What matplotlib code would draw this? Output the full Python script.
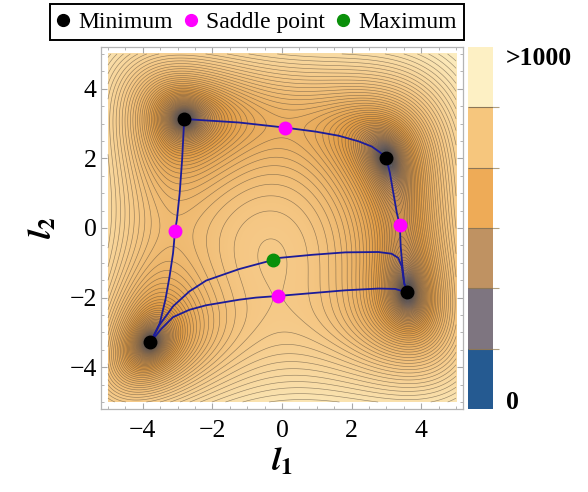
import numpy as np
import matplotlib
matplotlib.use('Agg')
import matplotlib.pyplot as plt
from matplotlib.colors import LinearSegmentedColormap, ListedColormap, BoundaryNorm
from matplotlib.cm import ScalarMappable
from matplotlib.lines import Line2D
from matplotlib.ticker import MultipleLocator, FixedLocator

plt.rcParams['font.family'] = ['Liberation Serif', 'DejaVu Serif']
plt.rcParams['mathtext.fontset'] = 'stix'

# stationary points of the surface
min_x = [-2.805, 3.0, -3.779, 3.584]
min_y = [3.131, 2.0, -3.283, -1.848]
saddle_x = [0.087, 3.385, -3.073, -0.128]
saddle_y = [2.884, 0.074, -0.081, -1.954]
max_x = [-0.271]
max_y = [-0.923]

# blue paths
top_x = [-2.805, -2.18, -1.23, 0.087, 0.96, 1.63, 2.2, 2.58, 2.82, 3.0]
top_y = [3.131, 3.09, 3.03, 2.884, 2.77, 2.65, 2.49, 2.34, 2.17, 2.0]
right_x = [3.0, 3.10, 3.2, 3.30, 3.385, 3.41, 3.46, 3.51, 3.584]
right_y = [2.0, 1.58, 1.0, 0.43, 0.074, -0.53, -1.10, -1.58, -1.848]
left_x = [-2.805, -2.82, -2.87, -2.94, -3.02, -3.073, -3.13, -3.23, -3.35, -3.51, -3.779]
left_y = [3.131, 2.92, 1.96, 1.0, 0.24, -0.081, -0.72, -1.39, -2.06, -2.73, -3.283]
bottom_x = [-3.779, -3.47, -3.13, -2.66, -2.18, -1.23, -0.75, -0.128, 0.87, 1.82, 2.77, 3.25, 3.584]
bottom_y = [-3.283, -2.90, -2.56, -2.35, -2.22, -2.06, -2.0, -1.954, -1.87, -1.79, -1.74, -1.75, -1.848]
maxpath_x = [-3.779, -3.53, -3.13, -2.66, -2.18, -1.23, -0.75, -0.271, -0.086, 0.87, 1.82, 2.77, 3.15, 3.34, 3.44, 3.51, 3.584]
maxpath_y = [-3.283, -2.80, -2.25, -1.82, -1.51, -1.18, -1.05, -0.923, -0.86, -0.77, -0.70, -0.69, -0.74, -0.86, -1.10, -1.58, -1.848]

# colour bar
cbar_colors = ['#255a91', '#7e7580', '#bf9262', '#eeab57', '#f6c67d', '#fdf0c4']
cbar_bounds = [0, 167, 333, 500, 667, 833, 1000]
cbar_labels = ['0', '>1000']
tick_vals = [-4, -2, 0, 2, 4]


def himmelblau(x, y):
    return (x**2 + y - 11)**2 + (x + y**2 - 7)**2


xs = np.linspace(-5, 5, 601)
X, Y = np.meshgrid(xs, xs)
Z = himmelblau(X, Y)

field_cmap = LinearSegmentedColormap.from_list('field', [
    (0.0, '#2b5a93'), (0.12, '#7d7482'), (0.28, '#b8895a'),
    (0.5, '#e29c45'), (0.74, '#f5c784'), (1.0, '#fdf1c6')])

fig = plt.figure(figsize=(5.88, 4.92), dpi=100)
ax = fig.add_axes([0.1718, 0.1687, 0.6156, 0.7358])

ax.imshow(np.log10(1 + Z) / 3, origin='lower', extent=[-5, 5, -5, 5],
          cmap=field_cmap, vmin=0, vmax=1, interpolation='bilinear', aspect='auto')
ax.contour(X, Y, np.log10(Z + 1e-9), levels=np.linspace(-2, 3, 101),
           colors='#54483a', linewidths=0.45, alpha=0.6)

for px, py in [(top_x, top_y), (right_x, right_y), (left_x, left_y),
               (bottom_x, bottom_y), (maxpath_x, maxpath_y)]:
    ax.plot(px, py, color='#1c1c9a', lw=1.3, zorder=3)

ax.plot(min_x, min_y, 'o', color='black', ms=9, zorder=4)
ax.plot(saddle_x, saddle_y, 'o', color='#ff00ff', ms=9, zorder=4)
ax.plot(max_x, max_y, 'o', color='#0a900a', ms=9, zorder=4)

ax.set_xlim(-5.2, 5.2)
ax.set_ylim(-5.2, 5.2)
ax.set_xticks(tick_vals)
ax.set_yticks(tick_vals)
ax.set_xticklabels(['\u2212' + str(-v) if v < 0 else str(v) for v in tick_vals])
ax.set_yticklabels(['\u2212' + str(-v) if v < 0 else str(v) for v in tick_vals])
ax.xaxis.set_minor_locator(MultipleLocator(0.5))
ax.yaxis.set_minor_locator(MultipleLocator(0.5))
ax.tick_params(which='both', direction='in', top=True, right=True, color='#a8a8a8')
ax.tick_params(which='major', length=4, labelsize=18.5)
ax.tick_params(which='minor', length=2)
ax.tick_params(axis='x', pad=8)
ax.tick_params(axis='y', pad=3)
for s in ax.spines.values():
    s.set_color('#b4b4b4')
    s.set_linewidth(0.9)

ax.set_xlabel(r'$\mathbfit{l}_{\mathbf{1}}$', fontsize=24, labelpad=3)
ax.set_ylabel(r'$\mathbfit{l}_{\mathbf{2}}$', fontsize=24, labelpad=8)

# discrete colour bar
cax = fig.add_axes([0.796, 0.1687, 0.0425, 0.7358])
sm = ScalarMappable(norm=BoundaryNorm(cbar_bounds, len(cbar_colors)),
                    cmap=ListedColormap(cbar_colors))
cb = fig.colorbar(sm, cax=cax, drawedges=True)
cb.outline.set_visible(False)
cb.dividers.set_color('#8c7656')
cb.dividers.set_linewidth(0.8)
cax.yaxis.set_major_locator(FixedLocator([25, 975]))
cax.set_yticklabels(cbar_labels, fontsize=18.5, fontweight='bold')
cax.yaxis.set_minor_locator(FixedLocator(cbar_bounds[1:-1]))
cax.tick_params(which='major', length=0, pad=9)
cax.tick_params(which='minor', length=4, color='#b0a080', width=0.8)

handles = [Line2D([], [], ls='', marker='o', color=c, ms=8.5)
           for c in ['black', '#ff00ff', '#0a900a']]
leg = fig.legend(handles, ['Minimum', 'Saddle point', 'Maximum'], loc='center',
                 bbox_to_anchor=(0.437, 0.955), ncol=3, fontsize=17,
                 handlelength=0.5, handletextpad=0.4, columnspacing=0.5,
                 borderpad=0.3, borderaxespad=0, fancybox=False, framealpha=1,
                 edgecolor='black')
leg.get_frame().set_linewidth(1.4)

fig.savefig('out.png', dpi=100)
